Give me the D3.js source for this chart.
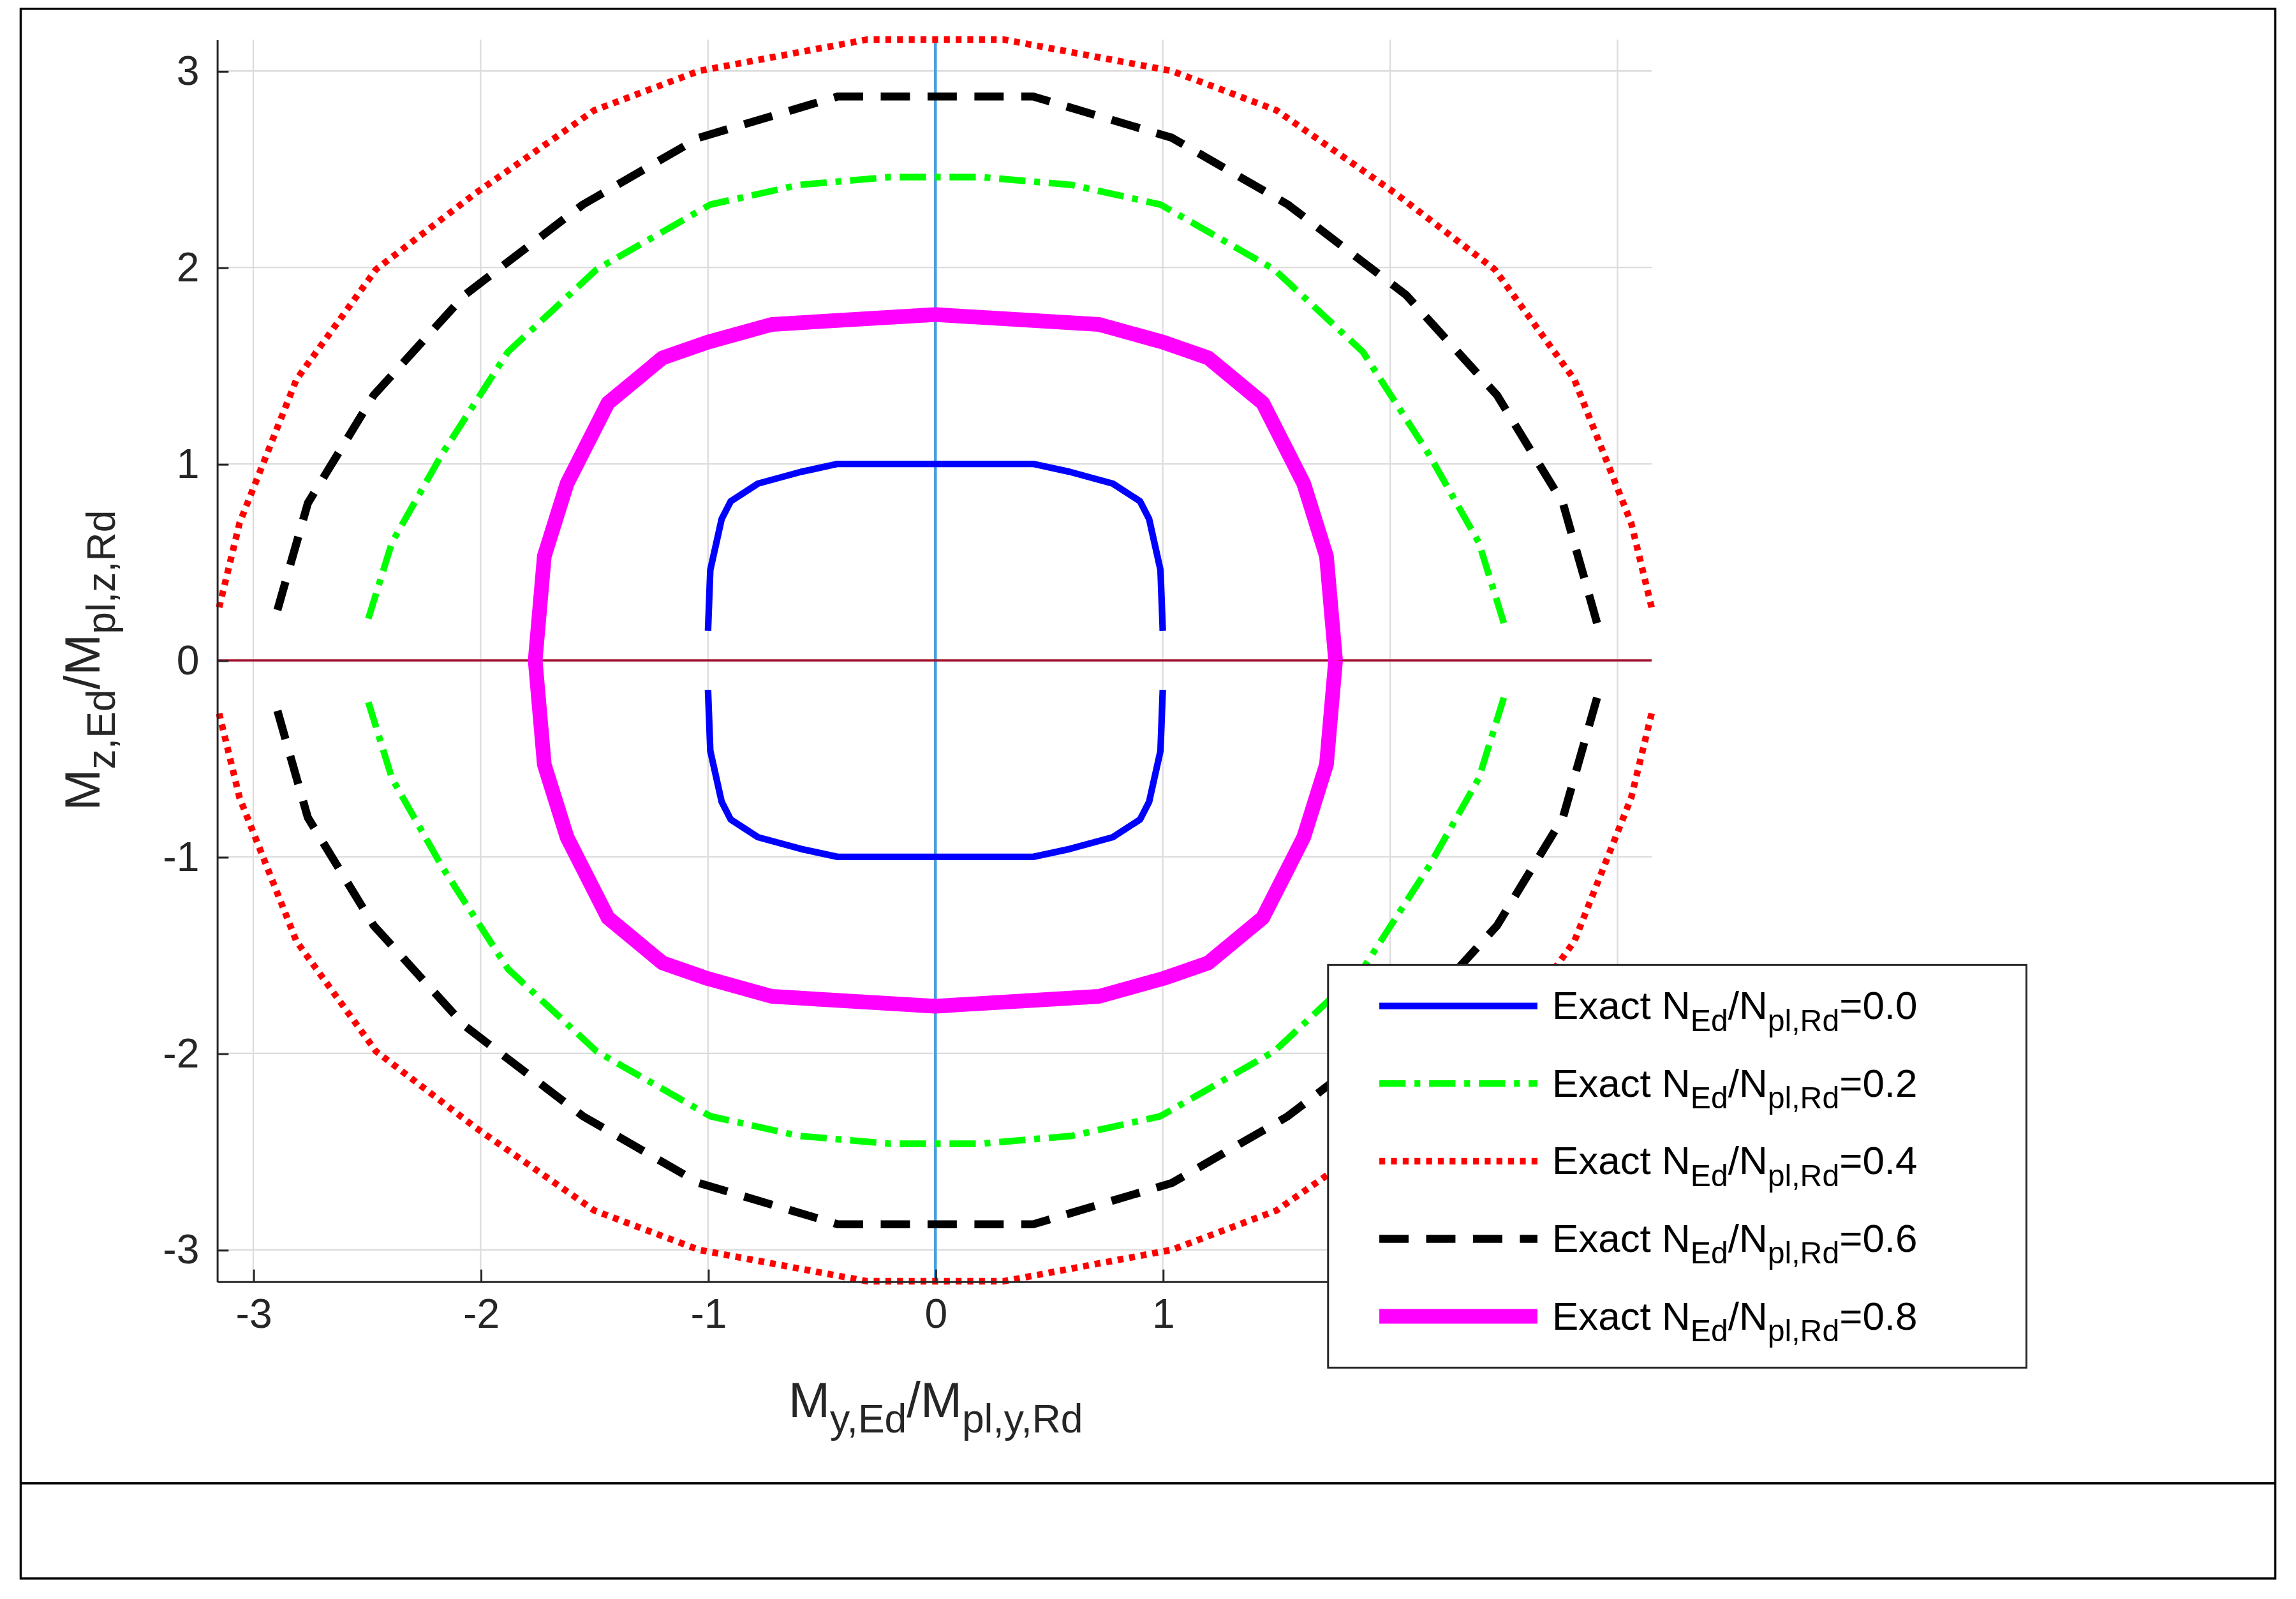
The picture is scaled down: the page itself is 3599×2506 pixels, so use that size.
<!DOCTYPE html>
<html>
<head>
<meta charset="utf-8">
<script src="https://cdn.jsdelivr.net/npm/d3@7"></script>
<style>
  body { margin: 0; background: #fff; }
  text { font-family: "Liberation Sans", Arial, sans-serif; }
</style>
</head>
<body>
<svg id="chart" width="3599" height="2506" viewBox="0 0 1568 1092"></svg>
<script>
// first-quadrant points [My, Mz] for each curve, mirrored to the other quadrants
const blueQ = [[1.0, 0.15], [0.99, 0.46], [0.94, 0.72], [0.9, 0.81], [0.78, 0.9], [0.59, 0.96], [0.43, 1.0], [0, 1.0]]
const greenQ = [[2.5, 0.19], [2.39, 0.6], [2.17, 1.05], [1.88, 1.57], [1.49, 1.99], [0.99, 2.32], [0.6, 2.42], [0.2, 2.46], [0, 2.46]]
const redQ = [[3.15, 0.27], [3.06, 0.7], [2.81, 1.43], [2.46, 1.99], [2.02, 2.38], [1.5, 2.8], [1.04, 3.0], [0.3, 3.16], [0, 3.16]]
const blackQ = [[2.91, 0.19], [2.76, 0.8], [2.47, 1.35], [2.07, 1.86], [1.55, 2.32], [1.04, 2.66], [0.43, 2.87], [0, 2.87]]
const magentaQ = [[1.76, 0], [1.72, 0.53], [1.62, 0.9], [1.44, 1.31], [1.2, 1.54], [1.0, 1.62], [0.72, 1.71], [0, 1.76]]

const ticks = [-3, -2, -1, 0, 1, 2, 3]
const legendLabels = ["0.0", "0.2", "0.4", "0.6", "0.8"]

const series = [
  { q: blueQ, color: "#0000ff", width: 4.5, dash: null, split: true },
  { q: greenQ, color: "#00ff00", width: 4.5, dash: "18 6 4 6", split: true },
  { q: redQ, color: "#ff0000", width: 4.5, dash: "4 4", split: true },
  { q: blackQ, color: "#000000", width: 5.5, dash: "20 12", split: true },
  { q: magentaQ, color: "#ff00ff", width: 10, dash: null, split: false }
]

const svg = d3.select("#chart")
const margin = { left: 148, right: 1128, top: 27, bottom: 875 }

// figure frame
svg.append("rect").attr("x", 14).attr("y", 6).attr("width", 1540).attr("height", 1072)
  .attr("fill", "none").attr("stroke", "#000").attr("stroke-width", 1.5)
svg.append("line").attr("x1", 14).attr("x2", 1554).attr("y1", 1013).attr("y2", 1013)
  .attr("stroke", "#000").attr("stroke-width", 1.5)

const x = d3.scaleLinear().domain([-3.16, 3.15]).range([margin.left, margin.right])
const y = d3.scaleLinear().domain([-3.16, 3.16]).range([margin.bottom, margin.top])

// grid
svg.append("g").selectAll("line").data(ticks).join("line")
  .attr("x1", d => x(d)).attr("x2", d => x(d)).attr("y1", margin.top).attr("y2", margin.bottom)
  .attr("stroke", "#dcdcdc").attr("stroke-width", 1)
svg.append("g").selectAll("line").data(ticks).join("line")
  .attr("y1", d => y(d)).attr("y2", d => y(d)).attr("x1", margin.left).attr("x2", margin.right)
  .attr("stroke", "#dcdcdc").attr("stroke-width", 1)

// zero lines
svg.append("line").attr("x1", x(0)).attr("x2", x(0)).attr("y1", margin.top).attr("y2", margin.bottom)
  .attr("stroke", "#4a9fdc").attr("stroke-width", 2)
svg.append("line").attr("y1", y(0)).attr("y2", y(0)).attr("x1", margin.left).attr("x2", margin.right)
  .attr("stroke", "#a2142f").attr("stroke-width", 1.5)

const line = d3.line().x(d => x(d[0])).y(d => y(d[1]))

function halves(q, split) {
  const top = q.concat(q.slice(0, -1).reverse().map(p => [-p[0], p[1]]))
  const bottom = top.map(p => [p[0], -p[1]])
  if (split) return [top, bottom]
  return [top.concat(bottom.slice().reverse())]
}

series.forEach(s => {
  halves(s.q, s.split).forEach(pts => {
    svg.append("path").attr("d", line(pts)).attr("fill", "none")
      .attr("stroke", s.color).attr("stroke-width", s.width)
      .attr("stroke-dasharray", s.dash).attr("stroke-linejoin", "round")
  })
})

// axes
const fmt = d => d < 0 ? "-" + Math.abs(d) : d
const xAxis = svg.append("g").attr("transform", `translate(0,${margin.bottom})`)
  .call(d3.axisBottom(x).tickValues(ticks).tickSizeInner(-8).tickSizeOuter(0).tickPadding(12).tickFormat(fmt))
const yAxis = svg.append("g").attr("transform", `translate(${margin.left},0)`)
  .call(d3.axisLeft(y).tickValues(ticks).tickSizeInner(-8).tickSizeOuter(0).tickPadding(12).tickFormat(fmt))
;[xAxis, yAxis].forEach(a => {
  a.selectAll("text").attr("font-size", 28).attr("fill", "#262626")
  a.selectAll("path,line").attr("stroke", "#262626").attr("stroke-width", 1.3)
})

// axis labels
function subLabel(g, parts, size) {
  const t = g.append("text").attr("font-size", size).attr("fill", "#262626").attr("text-anchor", "middle")
  parts.forEach(([txt, sub], i) => {
    t.append("tspan").text(txt)
      .attr("dy", sub ? size * 0.3 : (i > 0 ? -size * 0.3 : 0))
      .attr("font-size", sub ? size * 0.8 : size)
  })
  return t
}
subLabel(svg.append("g").attr("transform", "translate(639,968)"),
  [["M", false], ["y,Ed", true], ["/M", false], ["pl,y,Rd", true]], 34)
subLabel(svg.append("g").attr("transform", "translate(68,451) rotate(-90)"),
  [["M", false], ["z,Ed", true], ["/M", false], ["pl,z,Rd", true]], 34)

// legend
const lg = svg.append("g")
lg.append("rect").attr("x", 907).attr("y", 659).attr("width", 477).attr("height", 275)
  .attr("fill", "#fff").attr("stroke", "#262626").attr("stroke-width", 1.3)
series.forEach((s, i) => {
  const ly = 687 + i * 53
  lg.append("line").attr("x1", 942).attr("x2", 1050).attr("y1", ly).attr("y2", ly)
    .attr("stroke", s.color).attr("stroke-width", s.width).attr("stroke-dasharray", s.dash)
  const t = lg.append("text").attr("x", 1060).attr("y", ly + 9).attr("font-size", 27).attr("fill", "#000")
  t.append("tspan").text("Exact N")
  t.append("tspan").text("Ed").attr("font-size", 21).attr("dy", 8)
  t.append("tspan").text("/N").attr("dy", -8)
  t.append("tspan").text("pl,Rd").attr("font-size", 21).attr("dy", 8)
  t.append("tspan").text("=" + legendLabels[i]).attr("dy", -8)
})
</script>
</body>
</html>
